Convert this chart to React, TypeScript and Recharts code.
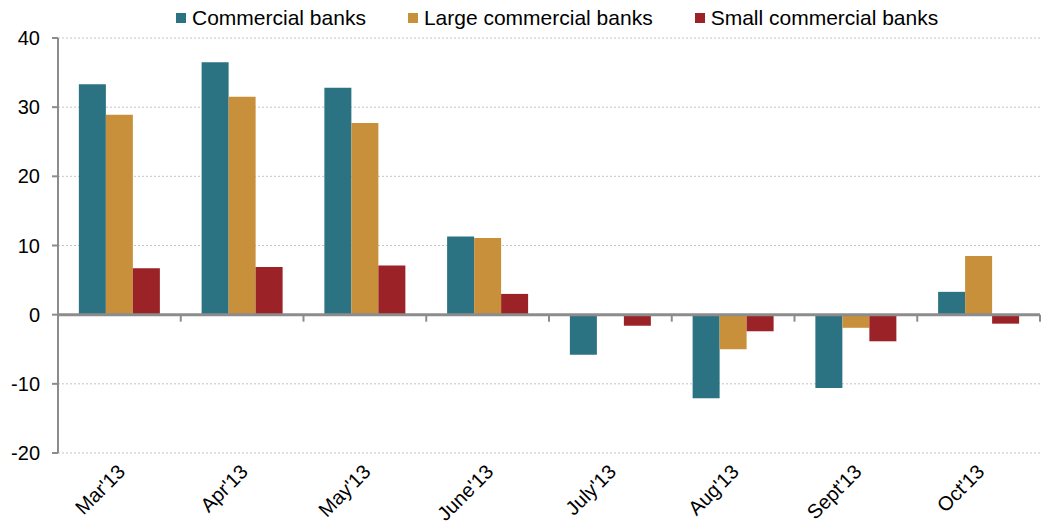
import React from "react";
import {
  BarChart,
  Bar,
  XAxis,
  YAxis,
  CartesianGrid,
  ReferenceLine,
} from "recharts";

const months = ["Mar'13", "Apr'13", "May'13", "June'13", "July'13", "Aug'13", "Sept'13", "Oct'13"];
const commercial = [33.3, 36.5, 32.8, 11.3, -5.8, -12.1, -10.6, 3.3];
const largeCommercial = [28.9, 31.5, 27.7, 11.1, -0.2, -5.0, -1.9, 8.5];
const smallCommercial = [6.7, 6.9, 7.1, 3.0, -1.6, -2.4, -3.85, -1.3];
const yTicks = [-20, -10, 0, 10, 20, 30, 40];

const seriesNames = ["Commercial banks", "Large commercial banks", "Small commercial banks"];
const seriesColors = ["#2b7282", "#c8903b", "#9b2226"];

const data = months.map((m, i) => ({
  name: m,
  commercial: commercial[i],
  large: largeCommercial[i],
  small: smallCommercial[i],
}));

const W = 1043;
const H = 525;
const margin = { top: 38, right: 3, left: 0, bottom: 0 };
const yAxisW = 58;
const xAxisH = 72;
const plotTop = margin.top;
const plotBottom = H - margin.bottom - xAxisH;
const plotLeft = margin.left + yAxisW;
const plotRight = W - margin.right;
const band = (plotRight - plotLeft) / months.length;
const yMin = yTicks[0];
const yMax = yTicks[yTicks.length - 1];
const zeroY = plotTop + ((yMax - 0) / (yMax - yMin)) * (plotBottom - plotTop);

const font = "'Liberation Sans', Arial, sans-serif";
const axisColor = "#8c8c8c";

// x ticks sit on the zero line at category edges, labels stay at the bottom
function MonthTick(props: any) {
  const { x, y, payload, index } = props;
  const left = x - band / 2;
  const ax = x + 7;
  const ay = y + 12;
  return (
    <g>
      <line x1={left} y1={zeroY} x2={left} y2={zeroY + 7} stroke={axisColor} strokeWidth={2} />
      {index === months.length - 1 && (
        <line x1={x + band / 2} y1={zeroY} x2={x + band / 2} y2={zeroY + 7} stroke={axisColor} strokeWidth={2} />
      )}
      <text
        x={ax}
        y={ay}
        transform={`rotate(-45, ${ax}, ${ay})`}
        textAnchor="end"
        fontSize={20}
        fontFamily={font}
        fill="#000"
      >
        {payload.value}
      </text>
    </g>
  );
}

function LegendRow() {
  return (
    <div
      style={{
        position: "absolute",
        top: 4,
        left: 176,
        display: "flex",
        gap: 42,
        fontFamily: font,
        fontSize: 21,
        color: "#000",
        lineHeight: "28px",
      }}
    >
      {seriesNames.map((n, i) => (
        <div key={n} style={{ display: "flex", alignItems: "center" }}>
          <span
            style={{ width: 10, height: 10, background: seriesColors[i], display: "inline-block", marginRight: 6 }}
          />
          <span>{n}</span>
        </div>
      ))}
    </div>
  );
}

export default function App() {
  return (
    <div style={{ position: "fixed", top: 0, left: 0, width: W, height: H, background: "#fff" }}>
      <LegendRow />
      <BarChart width={W} height={H} data={data} margin={margin} barCategoryGap="17%" barGap={0}>
        <CartesianGrid vertical={false} stroke="#c4c4c4" strokeDasharray="2 2" />
        <XAxis
          dataKey="name"
          height={xAxisH}
          axisLine={false}
          tickLine={false}
          interval={0}
          tick={<MonthTick />}
        />
        <YAxis
          width={yAxisW}
          domain={[yMin, yMax]}
          ticks={yTicks}
          interval={0}
          axisLine={{ stroke: axisColor, strokeWidth: 2 }}
          tickLine={{ stroke: axisColor, strokeWidth: 2 }}
          tickSize={6}
          tick={{ fontSize: 20, fontFamily: font, fill: "#000" }}
          tickMargin={12}
        />
        <Bar dataKey="commercial" fill={seriesColors[0]} isAnimationActive={false} />
        <Bar dataKey="large" fill={seriesColors[1]} isAnimationActive={false} />
        <Bar dataKey="small" fill={seriesColors[2]} isAnimationActive={false} />
        <ReferenceLine y={0} stroke={axisColor} strokeWidth={3} />
      </BarChart>
    </div>
  );
}
